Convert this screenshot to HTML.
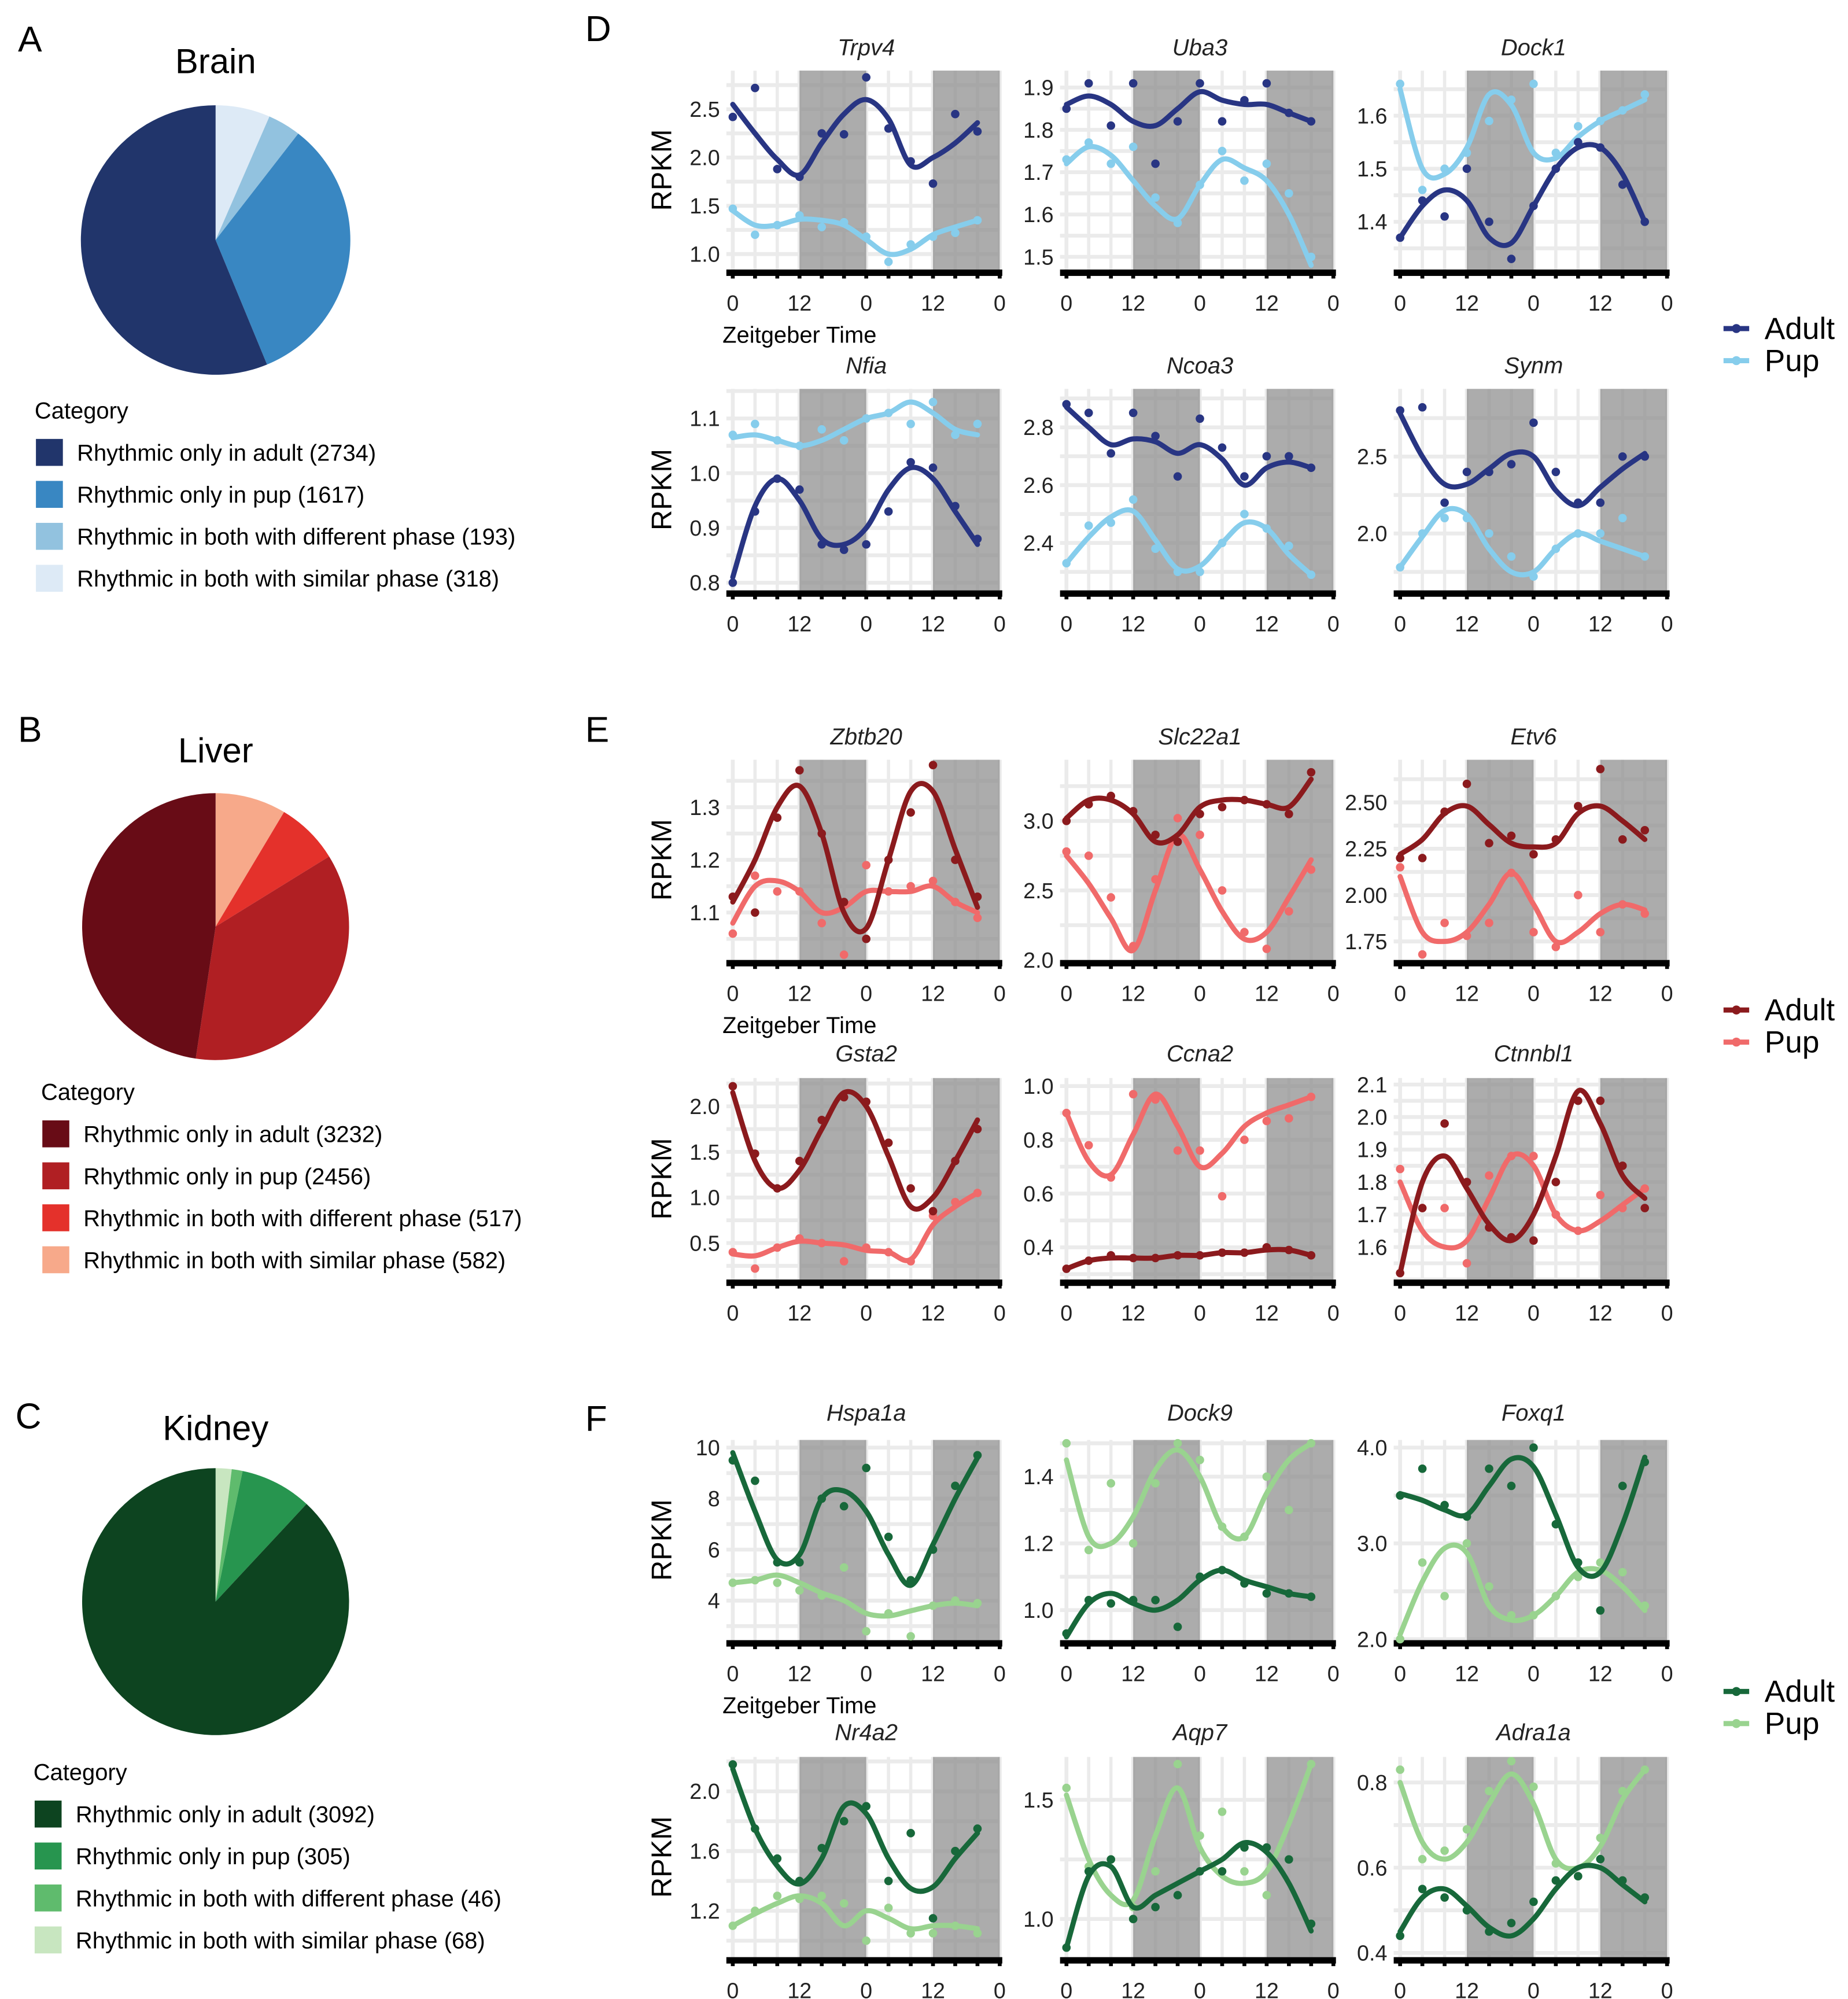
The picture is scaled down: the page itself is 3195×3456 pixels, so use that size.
<!DOCTYPE html>
<html><head><meta charset="utf-8"><style>
html,body{margin:0;padding:0;background:#fff}
svg{display:block;font-family:"Liberation Sans",Arial,sans-serif}
</style></head><body>
<svg id="fig" width="3195" height="3456" viewBox="0 0 1440 1557.6" xmlns="http://www.w3.org/2000/svg">
<rect width="1440" height="1558" fill="#fff"/>
<text x="14" y="40" font-size="28">A</text>
<text x="14" y="578" font-size="28">B</text>
<text x="12" y="1113" font-size="28">C</text>
<text x="456" y="32" font-size="28">D</text>
<text x="456" y="578" font-size="28">E</text>
<text x="456" y="1115" font-size="28">F</text>
<g id="pies"></g>
<g id="plots"></g>
<g id="legends"></g>
</svg>
<script>
// ---------- pie data ----------
const pieCategories = ["Rhythmic only in adult","Rhythmic only in pup","Rhythmic in both with different phase","Rhythmic in both with similar phase"];
const brainCounts = [2734,1617,193,318];
const liverCounts = [3232,2456,517,582];
const kidneyCounts = [3092,305,46,68];

// ---------- line chart data (hours 0..44 step 4) ----------
const hours = [0,4,8,12,16,20,24,28,32,36,40,44];
const xTickLabels = ["0","12","0","12","0"];
const xTickHours = [0,12,24,36,48];

const trpv4Adult=[2.42,2.72,1.88,1.80,2.25,2.24,2.83,2.30,1.96,1.73,2.45,2.27];
const trpv4AdultFit=[2.55,2.25,1.98,1.82,2.15,2.45,2.60,2.40,1.92,2.00,2.15,2.36];
const trpv4Pup=[1.47,1.20,1.30,1.40,1.28,1.33,1.18,0.92,1.10,1.18,1.22,1.35];
const trpv4PupFit=[1.45,1.30,1.30,1.36,1.35,1.30,1.15,1.00,1.05,1.20,1.28,1.35];
const trpv4Ticks=[2.5,2.0,1.5,1.0];const trpv4TickLabels=["2.5","2.0","1.5","1.0"];

const uba3Adult=[1.85,1.91,1.81,1.91,1.72,1.82,1.91,1.82,1.87,1.91,1.84,1.82];
const uba3AdultFit=[1.86,1.88,1.86,1.82,1.81,1.85,1.89,1.87,1.86,1.86,1.84,1.82];
const uba3Pup=[1.73,1.77,1.72,1.76,1.64,1.58,1.67,1.75,1.68,1.72,1.65,1.50];
const uba3PupFit=[1.72,1.76,1.74,1.68,1.62,1.59,1.67,1.73,1.71,1.68,1.60,1.48];
const uba3Ticks=[1.9,1.8,1.7,1.6,1.5];const uba3TickLabels=["1.9","1.8","1.7","1.6","1.5"];

const dock1Adult=[1.37,1.44,1.41,1.50,1.40,1.33,1.43,1.50,1.55,1.54,1.47,1.40];
const dock1AdultFit=[1.37,1.43,1.46,1.44,1.37,1.36,1.43,1.50,1.54,1.54,1.49,1.40];
const dock1Pup=[1.66,1.46,1.50,1.53,1.59,1.63,1.66,1.53,1.58,1.59,1.61,1.64];
const dock1PupFit=[1.65,1.50,1.49,1.54,1.64,1.62,1.53,1.52,1.56,1.59,1.61,1.63];
const dock1Ticks=[1.6,1.5,1.4];const dock1TickLabels=["1.6","1.5","1.4"];

const nfiaAdult=[0.80,0.93,0.99,0.97,0.87,0.86,0.87,0.93,1.02,1.01,0.94,0.88];
const nfiaAdultFit=[0.81,0.94,0.99,0.95,0.88,0.87,0.90,0.97,1.01,0.99,0.93,0.87];
const nfiaPup=[1.07,1.09,1.06,1.05,1.08,1.06,1.10,1.11,1.09,1.13,1.07,1.09];
const nfiaPupFit=[1.065,1.07,1.06,1.05,1.06,1.08,1.10,1.11,1.13,1.11,1.08,1.07];
const nfiaTicks=[1.1,1.0,0.9,0.8];const nfiaTickLabels=["1.1","1.0","0.9","0.8"];

const ncoa3Adult=[2.88,2.85,2.71,2.85,2.77,2.63,2.83,2.73,2.63,2.70,2.70,2.66];
const ncoa3AdultFit=[2.87,2.80,2.74,2.76,2.75,2.71,2.74,2.69,2.60,2.66,2.68,2.66];
const ncoa3Pup=[2.33,2.46,2.47,2.55,2.38,2.30,2.30,2.40,2.50,2.45,2.39,2.29];
const ncoa3PupFit=[2.33,2.42,2.49,2.51,2.41,2.31,2.32,2.40,2.47,2.45,2.36,2.29];
const ncoa3Ticks=[2.8,2.6,2.4];const ncoa3TickLabels=["2.8","2.6","2.4"];

const synmAdult=[2.80,2.82,2.20,2.40,2.40,2.45,2.72,2.40,2.20,2.20,2.50,2.50];
const synmAdultFit=[2.78,2.50,2.32,2.32,2.42,2.52,2.50,2.28,2.18,2.30,2.42,2.52];
const synmPup=[1.78,2.00,2.10,2.10,2.00,1.85,1.72,1.90,2.00,2.00,2.10,1.85];
const synmPupFit=[1.78,1.98,2.15,2.12,1.90,1.75,1.75,1.90,2.00,1.95,1.90,1.85];
const synmTicks=[2.5,2.0];const synmTickLabels=["2.5","2.0"];

const zbtb20Adult=[1.13,1.10,1.28,1.37,1.25,1.12,1.05,1.20,1.29,1.38,1.20,1.13];
const zbtb20AdultFit=[1.12,1.20,1.30,1.34,1.25,1.10,1.07,1.20,1.33,1.33,1.22,1.11];
const zbtb20Pup=[1.06,1.17,1.14,1.14,1.08,1.02,1.19,1.14,1.15,1.16,1.12,1.09];
const zbtb20PupFit=[1.08,1.15,1.16,1.14,1.10,1.11,1.14,1.14,1.14,1.15,1.12,1.10];
const zbtb20Ticks=[1.3,1.2,1.1];const zbtb20TickLabels=["1.3","1.2","1.1"];

const slc22a1Adult=[3.00,3.12,3.18,3.07,2.90,2.85,3.05,3.10,3.15,3.12,3.05,3.35];
const slc22a1AdultFit=[3.02,3.15,3.15,3.05,2.85,2.90,3.10,3.15,3.15,3.12,3.10,3.30];
const slc22a1Pup=[2.78,2.75,2.45,2.10,2.58,3.02,2.90,2.50,2.20,2.08,2.35,2.65];
const slc22a1PupFit=[2.75,2.55,2.30,2.07,2.50,2.90,2.65,2.35,2.15,2.20,2.45,2.72];
const slc22a1Ticks=[3.0,2.5,2.0];const slc22a1TickLabels=["3.0","2.5","2.0"];

const etv6Adult=[2.20,2.20,2.45,2.60,2.28,2.32,2.22,2.30,2.48,2.68,2.30,2.35];
const etv6AdultFit=[2.22,2.30,2.44,2.48,2.38,2.28,2.26,2.28,2.44,2.48,2.40,2.30];
const etv6Pup=[2.15,1.68,1.85,1.78,1.85,2.12,1.80,1.72,2.00,1.80,1.95,1.90];
const etv6PupFit=[2.10,1.80,1.75,1.80,1.95,2.12,1.95,1.75,1.80,1.90,1.95,1.92];
const etv6Ticks=[2.5,2.25,2.0,1.75];const etv6TickLabels=["2.50","2.25","2.00","1.75"];

const gsta2Adult=[2.22,1.48,1.10,1.40,1.85,2.10,2.05,1.60,1.10,0.85,1.40,1.75];
const gsta2AdultFit=[2.15,1.40,1.10,1.30,1.75,2.15,2.00,1.45,0.90,1.00,1.40,1.85];
const gsta2Pup=[0.40,0.22,0.45,0.55,0.50,0.30,0.45,0.40,0.30,0.80,0.95,1.05];
const gsta2PupFit=[0.38,0.36,0.45,0.52,0.50,0.48,0.42,0.40,0.32,0.70,0.90,1.05];
const gsta2Ticks=[2.0,1.5,1.0,0.5];const gsta2TickLabels=["2.0","1.5","1.0","0.5"];

const ccna2Adult=[0.32,0.35,0.37,0.36,0.36,0.37,0.37,0.38,0.38,0.40,0.39,0.37];
const ccna2AdultFit=[0.32,0.35,0.36,0.36,0.36,0.37,0.37,0.38,0.38,0.39,0.39,0.37];
const ccna2Pup=[0.90,0.78,0.66,0.97,0.95,0.76,0.76,0.59,0.80,0.87,0.88,0.96];
const ccna2PupFit=[0.90,0.72,0.67,0.82,0.97,0.85,0.70,0.75,0.85,0.90,0.93,0.96];
const ccna2Ticks=[1.0,0.8,0.6,0.4];const ccna2TickLabels=["1.0","0.8","0.6","0.4"];

const ctnnbl1Adult=[1.52,1.72,1.98,1.80,1.66,1.63,1.62,1.80,2.05,2.05,1.85,1.72];
const ctnnbl1AdultFit=[1.52,1.80,1.88,1.78,1.67,1.62,1.70,1.88,2.08,1.98,1.82,1.75];
const ctnnbl1Pup=[1.84,1.72,1.72,1.55,1.82,1.88,1.88,1.70,1.65,1.76,1.72,1.78];
const ctnnbl1PupFit=[1.80,1.65,1.60,1.62,1.75,1.88,1.85,1.70,1.65,1.68,1.73,1.78];
const ctnnbl1Ticks=[2.1,2.0,1.9,1.8,1.7,1.6];const ctnnbl1TickLabels=["2.1","2.0","1.9","1.8","1.7","1.6"];

const hspa1aAdult=[9.5,8.7,5.5,5.5,8.0,7.7,9.2,6.5,4.8,6.0,8.5,9.7];
const hspa1aAdultFit=[9.8,7.5,5.6,5.8,8.0,8.3,7.5,5.8,4.6,6.2,8.0,9.6];
const hspa1aPup=[4.7,4.8,4.7,4.4,4.2,5.3,2.8,3.5,2.6,3.8,4.0,3.9];
const hspa1aPupFit=[4.7,4.8,5.0,4.7,4.3,4.0,3.5,3.4,3.6,3.8,3.9,3.8];
const hspa1aTicks=[10,8,6,4];const hspa1aTickLabels=["10","8","6","4"];

const dock9Adult=[0.93,1.03,1.02,1.03,1.03,0.95,1.10,1.12,1.08,1.05,1.05,1.04];
const dock9AdultFit=[0.92,1.02,1.05,1.02,1.00,1.03,1.09,1.12,1.09,1.07,1.05,1.04];
const dock9Pup=[1.50,1.18,1.38,1.20,1.38,1.50,1.45,1.25,1.22,1.40,1.30,1.50];
const dock9PupFit=[1.45,1.22,1.20,1.28,1.42,1.48,1.40,1.25,1.22,1.35,1.45,1.50];
const dock9Ticks=[1.4,1.2,1.0];const dock9TickLabels=["1.4","1.2","1.0"];

const foxq1Adult=[3.50,3.78,3.40,3.28,3.78,3.60,4.00,3.20,2.80,2.30,3.60,3.85];
const foxq1AdultFit=[3.52,3.45,3.35,3.30,3.60,3.88,3.80,3.30,2.75,2.70,3.20,3.90];
const foxq1Pup=[2.00,2.80,2.45,3.00,2.55,2.25,2.25,2.45,2.65,2.80,2.70,2.35];
const foxq1PupFit=[2.05,2.60,2.95,2.90,2.35,2.20,2.25,2.45,2.70,2.72,2.55,2.30];
const foxq1Ticks=[4.0,3.0,2.0];const foxq1TickLabels=["4.0","3.0","2.0"];

const nr4a2Adult=[2.18,1.75,1.55,1.40,1.62,1.80,1.90,1.40,1.72,1.15,1.60,1.75];
const nr4a2AdultFit=[2.15,1.75,1.50,1.38,1.55,1.90,1.85,1.55,1.35,1.36,1.55,1.72];
const nr4a2Pup=[1.10,1.20,1.30,1.28,1.30,1.25,1.00,1.22,1.05,1.05,1.10,1.05];
const nr4a2PupFit=[1.10,1.18,1.25,1.30,1.25,1.10,1.20,1.15,1.08,1.10,1.10,1.08];
const nr4a2Ticks=[2.0,1.6,1.2];const nr4a2TickLabels=["2.0","1.6","1.2"];

const aqp7Adult=[0.88,1.20,1.25,1.00,1.05,1.10,1.20,1.20,1.30,1.30,1.25,0.98];
const aqp7AdultFit=[0.88,1.18,1.22,1.05,1.10,1.15,1.20,1.25,1.32,1.28,1.15,0.95];
const aqp7Pup=[1.55,1.22,1.25,1.05,1.20,1.65,1.35,1.45,1.20,1.10,1.25,1.65];
const aqp7PupFit=[1.52,1.25,1.10,1.08,1.35,1.55,1.30,1.18,1.15,1.20,1.40,1.65];
const aqp7Ticks=[1.5,1.0];const aqp7TickLabels=["1.5","1.0"];

const adra1aAdult=[0.44,0.55,0.53,0.50,0.45,0.47,0.52,0.57,0.58,0.62,0.57,0.53];
const adra1aAdultFit=[0.45,0.53,0.55,0.51,0.46,0.44,0.48,0.55,0.60,0.60,0.56,0.52];
const adra1aPup=[0.83,0.62,0.64,0.69,0.78,0.85,0.79,0.61,0.58,0.67,0.78,0.83];
const adra1aPupFit=[0.80,0.66,0.62,0.66,0.75,0.82,0.75,0.62,0.60,0.65,0.76,0.83];
const adra1aTicks=[0.8,0.6,0.4];const adra1aTickLabels=["0.8","0.6","0.4"];

// ---------- rendering ----------
const NS="http://www.w3.org/2000/svg";
function mk(tag,attrs,parent){const e=document.createElementNS(NS,tag);for(const k in attrs)e.setAttribute(k,attrs[k]);parent.appendChild(e);return e;}

// pies
const pieSpecs=[
 {name:"brain",title:"Brain",counts:brainCounts,cx:168,cy:187,r:105,ty:57,legY:320,sqX:28,colors:["#21356b","#3987c2","#92c2df","#ddeaf6"]},
 {name:"liver",title:"Liver",counts:liverCounts,cx:168,cy:722,r:104,ty:594,legY:851,sqX:33,colors:["#680c16","#b01f23","#e4312b","#f7a98a"]},
 {name:"kidney",title:"Kidney",counts:kidneyCounts,cx:168,cy:1248,r:104,ty:1122,legY:1381,sqX:27,colors:["#0d4420","#27954f","#5fbb6d","#c8e6c0"]}
];
const pg=document.getElementById("pies");
pieSpecs.forEach(s=>{
  const g=mk("g",{},pg);
  
  
  const t=mk("text",{x:s.cx,y:s.ty,"font-size":27,"text-anchor":"middle"},g);t.textContent=s.title;
  
  
  const total=s.counts.reduce((a,b)=>a+b,0);
  let ang=-Math.PI/2;
  for(let i=s.counts.length-1;i>=0;i--){
    const a2=ang+s.counts[i]/total*2*Math.PI;
    const x1=s.cx+s.r*Math.cos(ang),y1=s.cy+s.r*Math.sin(ang),x2=s.cx+s.r*Math.cos(a2),y2=s.cy+s.r*Math.sin(a2);
    const large=(a2-ang)>Math.PI?1:0;
    const p=mk("path",{d:`M${s.cx},${s.cy}L${x1},${y1}A${s.r},${s.r} 0 ${large} 1 ${x2},${y2}Z`,fill:s.colors[i]},g);
    
    
    ang=a2;
  }
  const c=mk("text",{x:s.sqX-1,y:s.legY+6,"font-size":18},g);c.textContent="Category";
  
  
  pieCategories.forEach((cat,i)=>{
    const y=s.legY+32+i*32.7;
    const r=mk("rect",{x:s.sqX,y:y-10,width:21,height:21,fill:s.colors[i]},g);
    
    
    const tx=mk("text",{x:s.sqX+32,y:y+7,"font-size":18},g);tx.textContent=cat+" ("+s.counts[i]+")";
    
    
  });
});

// line panels
const rows={D1:[55,210,43],D2:[303,460,291],E1:[592,748,580],E2:[840,997,827],F1:[1122,1278,1107],F2:[1369,1525,1356]};
const colX=[571,831,1091];
const blue=["#283583","#86cdec"],red=["#8b1a1d","#f06a6a"],green=["#17683a","#99d38f"];
const panels=[
 ["Trpv4","D1",0,0.84,2.90,trpv4Ticks,trpv4TickLabels,trpv4Adult,trpv4AdultFit,trpv4Pup,trpv4PupFit,blue,true],
 ["Uba3","D1",1,1.47,1.94,uba3Ticks,uba3TickLabels,uba3Adult,uba3AdultFit,uba3Pup,uba3PupFit,blue,false],
 ["Dock1","D1",2,1.31,1.685,dock1Ticks,dock1TickLabels,dock1Adult,dock1AdultFit,dock1Pup,dock1PupFit,blue,false],
 ["Nfia","D2",0,0.786,1.154,nfiaTicks,nfiaTickLabels,nfiaAdult,nfiaAdultFit,nfiaPup,nfiaPupFit,blue,false],
 ["Ncoa3","D2",1,2.236,2.933,ncoa3Ticks,ncoa3TickLabels,ncoa3Adult,ncoa3AdultFit,ncoa3Pup,ncoa3PupFit,blue,false],
 ["Synm","D2",2,1.63,2.94,synmTicks,synmTickLabels,synmAdult,synmAdultFit,synmPup,synmPupFit,blue,false],
 ["Zbtb20","E1",0,1.01,1.39,zbtb20Ticks,zbtb20TickLabels,zbtb20Adult,zbtb20AdultFit,zbtb20Pup,zbtb20PupFit,red,true],
 ["Slc22a1","E1",1,2.0,3.44,slc22a1Ticks,slc22a1TickLabels,slc22a1Adult,slc22a1AdultFit,slc22a1Pup,slc22a1PupFit,red,false],
 ["Etv6","E1",2,1.65,2.73,etv6Ticks,etv6TickLabels,etv6Adult,etv6AdultFit,etv6Pup,etv6PupFit,red,false],
 ["Gsta2","E2",0,0.10,2.31,gsta2Ticks,gsta2TickLabels,gsta2Adult,gsta2AdultFit,gsta2Pup,gsta2PupFit,red,false],
 ["Ccna2","E2",1,0.28,1.03,ccna2Ticks,ccna2TickLabels,ccna2Adult,ccna2AdultFit,ccna2Pup,ccna2PupFit,red,false],
 ["Ctnnbl1","E2",2,1.50,2.12,ctnnbl1Ticks,ctnnbl1TickLabels,ctnnbl1Adult,ctnnbl1AdultFit,ctnnbl1Pup,ctnnbl1PupFit,red,false],
 ["Hspa1a","F1",0,2.45,10.3,hspa1aTicks,hspa1aTickLabels,hspa1aAdult,hspa1aAdultFit,hspa1aPup,hspa1aPupFit,green,true],
 ["Dock9","F1",1,0.91,1.51,dock9Ticks,dock9TickLabels,dock9Adult,dock9AdultFit,dock9Pup,dock9PupFit,green,false],
 ["Foxq1","F1",2,1.99,4.08,foxq1Ticks,foxq1TickLabels,foxq1Adult,foxq1AdultFit,foxq1Pup,foxq1PupFit,green,false],
 ["Nr4a2","F2",0,0.89,2.23,nr4a2Ticks,nr4a2TickLabels,nr4a2Adult,nr4a2AdultFit,nr4a2Pup,nr4a2PupFit,green,false],
 ["Aqp7","F2",1,0.84,1.68,aqp7Ticks,aqp7TickLabels,aqp7Adult,aqp7AdultFit,aqp7Pup,aqp7PupFit,green,false],
 ["Adra1a","F2",2,0.39,0.86,adra1aTicks,adra1aTickLabels,adra1aAdult,adra1aAdultFit,adra1aPup,adra1aPupFit,green,false]
];
function crPath(pts){
  let d=`M${pts[0][0]},${pts[0][1]}`;
  for(let i=0;i<pts.length-1;i++){
    const p0=pts[Math.max(0,i-1)],p1=pts[i],p2=pts[i+1],p3=pts[Math.min(pts.length-1,i+2)];
    const c1x=p1[0]+(p2[0]-p0[0])/6,c1y=p1[1]+(p2[1]-p0[1])/6,c2x=p2[0]-(p3[0]-p1[0])/6,c2y=p2[1]-(p3[1]-p1[1])/6;
    d+=`C${c1x},${c1y} ${c2x},${c2y} ${p2[0]},${p2[1]}`;
  }
  return d;
}
const pl=document.getElementById("plots");
panels.forEach(P=>{
  const [title,rowKey,col,yMin,yMax,ticks,tickLabels,ad,adFit,pu,puFit,cols,xlab]=P;
  const [top,bot,ty]=rows[rowKey];
  const x0=colX[col],W=208;
  const xs=h=>x0+h/48*W;
  const ys=v=>bot-(v-yMin)/(yMax-yMin)*(bot-top);
  const g=mk("g",{},pl);
  
  
  mk("rect",{x:x0-5,y:top,width:W+5,height:bot-top,fill:"#fff"},g);
  // grid
  for(let h=0;h<=48;h+=4){const l=mk("line",{x1:xs(h),x2:xs(h),y1:top,y2:bot,stroke:"#ebebeb","stroke-width":h%12===0?3:2.5},g);}
  const step=(ticks[0]-ticks[1]);
  for(let v=ticks[0]+step/2*2;v>=yMin-step;v-=step/2){const y=ys(v);if(y>top&&y<bot)mk("line",{x1:x0-5,x2:x0+W,y1:y,y2:y,stroke:"#ebebeb","stroke-width":3},g);}
  // dark bands
  [[12,24],[36,48]].forEach(b=>{
    const r=mk("rect",{x:xs(b[0]),y:top,width:xs(b[1])-xs(b[0]),height:bot-top,fill:"#8c8c8c","fill-opacity":0.72},g);
    
    
  });
  // title
  const t=mk("text",{x:x0+W/2,y:ty,"font-size":18,"font-style":"italic","text-anchor":"middle",fill:"#222"},g);t.textContent=title;
  
  
  // y ticks
  ticks.forEach((v,i)=>{const tt=mk("text",{x:x0-10,y:ys(v)+6,"font-size":17,"text-anchor":"end",fill:"#222"},g);tt.textContent=tickLabels[i];
    
    });
  if(col===0){const r=mk("text",{x:0,y:0,"font-size":22,"text-anchor":"middle",transform:`translate(523,${(top+bot)/2}) rotate(-90)`},g);r.textContent="RPKM";
    
    }
  // x axis bar
  mk("rect",{x:x0-5,y:bot,width:W+7,height:5,fill:"#000"},g);
  for(let h=0;h<=48;h+=4)mk("rect",{x:xs(h)-1.5,y:bot+4,width:3,height:3,fill:"#000"},g);
  xTickHours.forEach((h,i)=>{const xt=mk("text",{x:xs(h),y:bot+32,"font-size":17,"text-anchor":"middle",fill:"#222"},g);xt.textContent=xTickLabels[i];
    
    });
  if(xlab){const xl=mk("text",{x:x0-8,y:bot+57,"font-size":18},g);xl.textContent="Zeitgeber Time";
    
    }
  // series
  [[pu,puFit,cols[1],'pup'],[ad,adFit,cols[0],'adult']].forEach(S=>{
    const [pts,fit,c,nm]=S;
    const path=mk("path",{d:crPath(hours.map((h,i)=>[xs(h),ys(fit[i])])),fill:"none",stroke:c,"stroke-width":4,"stroke-linecap":"round"},g);
    
    
    pts.forEach((v,i)=>{const d=mk("circle",{cx:xs(hours[i]),cy:ys(v),r:3.3,fill:c},g);
      
      });
  });
});

// legends
const legSpecs=[[256,blue,"d"],[787,red,"e"],[1318,green,"f"]];
const lg=document.getElementById("legends");
legSpecs.forEach(L=>{
  ["Adult","Pup"].forEach((lab,i)=>{
    const y=L[0]+i*25;
    mk("line",{x1:1343,x2:1363,y1:y,y2:y,stroke:L[1][i],"stroke-width":4},lg);
    mk("circle",{cx:1353,cy:y,r:3.5,fill:L[1][i]},lg);
    const t=mk("text",{x:1375,y:y+8,"font-size":24},lg);t.textContent=lab;
    
    
  });
});
</script>
</body></html>
